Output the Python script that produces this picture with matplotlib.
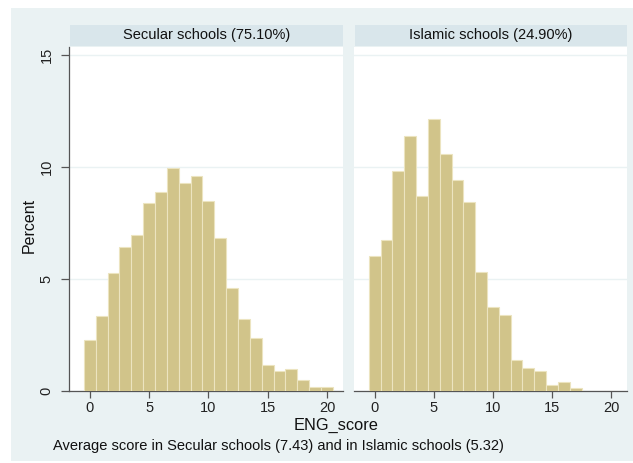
import matplotlib
matplotlib.use("Agg")
import matplotlib.pyplot as plt
from matplotlib.patches import Rectangle

plt.rcParams['font.family'] = ['Liberation Sans', 'DejaVu Sans']

# ENG_score bins (0..20) and percent of pupils in each school type
scores = list(range(21))
secular_pct = [2.28, 3.36, 5.25, 6.44, 6.95, 8.38, 8.90, 9.94, 9.27, 9.60, 8.48,
               6.82, 4.61, 3.21, 2.37, 1.16, 0.89, 0.98, 0.48, 0.19, 0.16]
islamic_pct = [6.03, 6.74, 9.82, 11.40, 8.71, 12.14, 10.58, 9.42, 8.45, 5.30, 3.74,
               3.39, 1.38, 1.01, 0.91, 0.27, 0.42, 0.15, 0.0, 0.0, 0.0]
panel_titles = ["Secular schools (75.10%)", "Islamic schools (24.90%)"]
yticks = [0, 5, 10, 15]
xticks = [0, 5, 10, 15, 20]
note = "Average score in Secular schools (7.43) and in Islamic schools (5.32)"

BG = '#EAF2F3'
STRIP = '#D9E6EB'
BAR = '#D1C48A'
BAR_EDGE = '#ECE4C0'
AXIS = '#555555'

W, H = 633, 463
fig = plt.figure(figsize=(W / 100, H / 100), dpi=100, facecolor='white')
fig.patches.append(Rectangle((11 / W, 2 / H), 1 - 11 / W, 1 - 10 / H,
                             transform=fig.transFigure, facecolor=BG,
                             edgecolor='none', zorder=-10))


def px(x0, y0, x1, y1):
    # pixel box (top-left origin) -> figure fractions
    return [x0 / W, 1 - y1 / H, (x1 - x0) / W, (y1 - y0) / H]


panels = [(69, 343, secular_pct), (354, 627, islamic_pct)]
for i, (x0, x1, vals) in enumerate(panels):
    ax = fig.add_axes(px(x0, 47, x1, 391))
    ax.set_facecolor('white')
    ax.bar(scores, vals, width=1.0, color=BAR, edgecolor=BAR_EDGE,
           linewidth=0.8, zorder=3)
    ax.set_xlim(-1.75, 21.35)
    ax.set_ylim(0, 15.35)
    ax.set_yticks(yticks)
    ax.set_xticks(xticks)
    ax.yaxis.grid(True, color=BG, linewidth=1.0, zorder=0)
    for s in ['top', 'right']:
        ax.spines[s].set_visible(False)
    ax.spines['bottom'].set_color(AXIS)
    ax.spines['bottom'].set_linewidth(0.9)
    ax.tick_params(axis='x', length=5, width=0.9, color=AXIS,
                   labelsize=10.5, pad=2, labelcolor='#222222')
    if i == 0:
        ax.spines['left'].set_color(AXIS)
        ax.spines['left'].set_linewidth(0.9)
        ax.tick_params(axis='y', length=6, width=0.9, color=AXIS,
                       labelsize=10.5, pad=5, labelcolor='#222222')
        for lab in ax.get_yticklabels():
            lab.set_rotation(90)
            lab.set_va('center')
    else:
        ax.spines['left'].set_visible(False)
        ax.tick_params(axis='y', left=False, labelleft=False)

    # title strip above each panel
    strip = fig.add_axes(px(x0 + 1, 25, x1, 46))
    strip.set_facecolor(STRIP)
    strip.set_xticks([])
    strip.set_yticks([])
    for s in strip.spines.values():
        s.set_visible(False)
    strip.text(0.5, 0.5, panel_titles[i], ha='center', va='center',
               fontsize=10.5, color='#111111', transform=strip.transAxes)

fig.text(336 / W, 1 - 425 / H, "ENG_score", ha='center', va='center',
         fontsize=11.8, color='#111111')
fig.text(29 / W, 1 - 225 / H, "Percent", ha='center', va='center',
         rotation=90, fontsize=11.5, color='#111111')
fig.text(53 / W, 1 - 446 / H, note, ha='left', va='center',
         fontsize=10.5, color='#111111')

fig.savefig("out.png", dpi=100, facecolor=fig.get_facecolor())
